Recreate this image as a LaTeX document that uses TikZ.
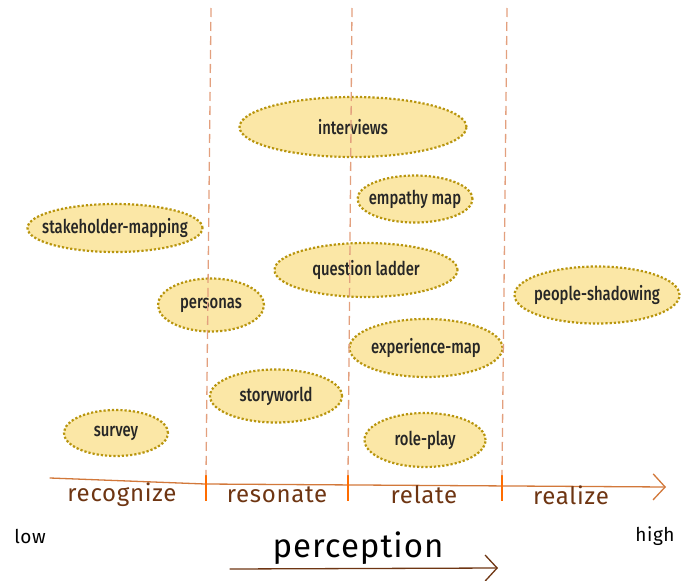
\documentclass[tikz,border=0pt]{standalone}
\usepackage{fontspec}
\setmainfont{Fira Sans}[FakeStretch=0.78, UprightFont=* Medium]
\newfontfamily\handfont{Fira Sans}[LetterSpace=3]
\usepackage{xcolor}
\usetikzlibrary{shapes.geometric,arrows.meta,positioning}
\definecolor{bubblefill}{HTML}{FBE7A6}
\definecolor{bubbledots}{HTML}{B8950E}
\definecolor{guide}{HTML}{E3A07E}
\definecolor{axisline}{HTML}{D2783A}
\definecolor{stagebrown}{HTML}{6E3512}

\begin{document}
\begin{tikzpicture}[x=1pt, y=-1pt,
  bubble/.style={ellipse, fill=bubblefill, draw=bubbledots, line width=2.2pt,
                 dash pattern=on 2.2pt off 2pt, inner ysep=0pt, inner xsep=-14pt,
                 font=\fontsize{19}{22}\selectfont, text=black!85},
  stage/.style={font=\handfont\fontsize{24}{26}\selectfont, text=stagebrown},
  tick/.style={draw=none, minimum height=25pt, minimum width=0pt, inner sep=0pt},
  guideline/.style={draw=guide, line width=1.3pt, dash pattern=on 9pt off 5pt},
  hook/.style={-{Straight Barb[length=12pt, width=26pt, line width=1.3pt]}},
]
\useasboundingbox (0,0) rectangle (681,581);

% methods
\node[bubble, minimum width=227pt, minimum height=60pt] (interviews) at (353,127) {interviews};
\node[bubble, minimum width=115pt, minimum height=47pt] (empathy) at (415,199) {empathy map};
\node[bubble, minimum width=175pt, minimum height=48pt] (stakeholder) at (115,228) {stakeholder-mapping};
\node[bubble, minimum width=183pt, minimum height=54pt] (ladder) at (366,270) {question ladder};
\node[bubble, minimum width=106pt, minimum height=53pt] (personas) at (211,305) {personas};
\node[bubble, minimum width=165pt, minimum height=57pt] (shadowing) at (597,295) {people-shadowing};
\node[bubble, minimum width=153pt, minimum height=58pt] (expmap) at (426,348) {experience-map};
\node[bubble, minimum width=132pt, minimum height=53pt] (storyworld) at (276,396) {storyworld};
\node[bubble, minimum width=104pt, minimum height=46pt] (survey) at (116,433) {survey};
\node[bubble, minimum width=121pt, minimum height=54pt] (roleplay) at (425,440) {role-play};

% axis
\coordinate (axL) at (50,478);
\coordinate (axK) at (205,484);
\coordinate (axR) at (666,487);
\draw[axisline, line width=1.3pt, line cap=round, hook] (axL) -- (axK) -- (axR);
\node[tick] (t1) at (206,488) {};
\node[tick] (t2) at (348,488) {};
\node[tick] (t3) at (502,488) {};
\foreach \t in {t1,t2,t3}
  \draw[orange!85!red, line width=2.4pt] (\t.north) -- (\t.south);

% guides
\coordinate (g1) at (211,8);
\coordinate (g2) at (352,8);
\coordinate (g3) at (507,8);
\draw[guideline] (g1) -- (t1.north);
\draw[guideline] (g2) -- (t2.north);
\draw[guideline] (g3) -- (t3.north);

% stages
\node[stage] (recognize) at (122,495) {recognize};
\node[stage] (resonate) at (277,495) {resonate};
\node[stage] (relate) at (424,495) {relate};
\node[stage] (realize) at (571,495) {realize};

\node[font=\handfont\fontsize{19}{21}\selectfont] (low) at (30,536) {low};
\node[font=\handfont\fontsize{19}{21}\selectfont] (high) at (655,536) {high};
\node[font=\handfont\fontsize{33}{36}\selectfont] (perception) at (358,548) {perception};
\coordinate (pL) at (230,569);
\coordinate (pR) at (498,568);
\draw[stagebrown, line width=1.3pt, line cap=round, hook] (pL) -- (pR);
\end{tikzpicture}
\end{document}
